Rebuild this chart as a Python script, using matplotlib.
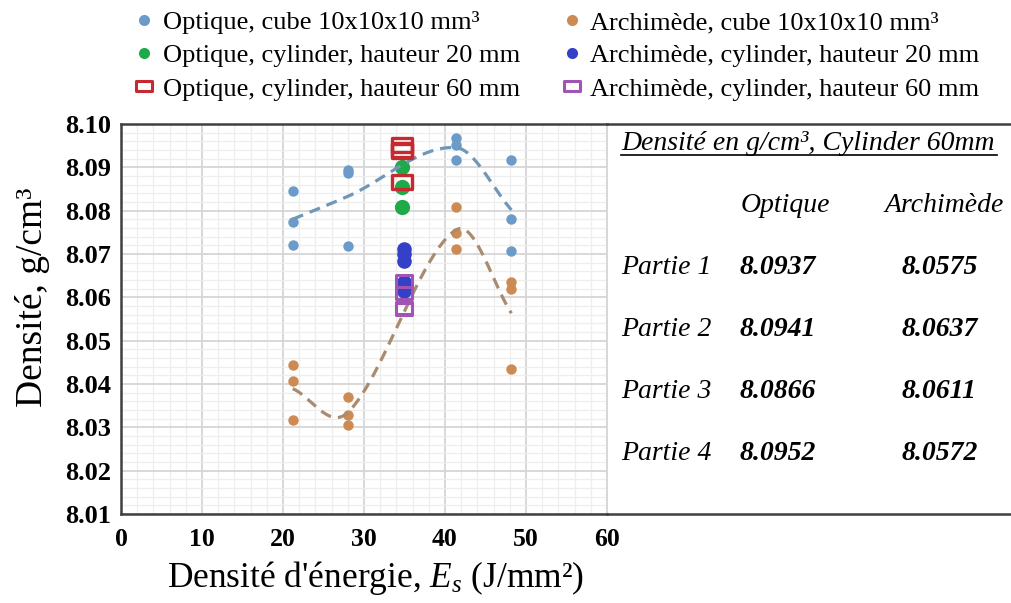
import numpy as np
import matplotlib
matplotlib.use("Agg")
import matplotlib.pyplot as plt
from matplotlib.path import Path
from matplotlib.lines import Line2D

plt.rcParams["font.family"] = ["Liberation Serif", "DejaVu Serif"]
plt.rcParams["mathtext.fontset"] = "custom"
plt.rcParams["mathtext.rm"] = "Liberation Serif"
plt.rcParams["mathtext.it"] = "Liberation Serif:italic"
plt.rcParams["mathtext.bf"] = "Liberation Serif:bold"

# cube 10x10x10 mm3, three samples per energy density
cube_x = [21.2, 28.0, 41.4, 48.2]
opt_cube = [[8.0846, 8.0775, 8.0720],
            [8.0894, 8.0887, 8.0718],
            [8.0967, 8.0951, 8.0918],
            [8.0917, 8.0780, 8.0708]]
arch_cube = [[8.0444, 8.0408, 8.0316],
             [8.0369, 8.0328, 8.0306],
             [8.0808, 8.0748, 8.0712],
             [8.0635, 8.0620, 8.0435]]

# cylinders
cyl_x_opt = 34.7
cyl_x_arch = 34.9
opt_cyl20 = [8.0901, 8.0855, 8.0808]
arch_cyl20 = [8.0711, 8.0700, 8.0684, 8.0636, 8.0621, 8.0614]

parties = ["Partie 1", "Partie 2", "Partie 3", "Partie 4"]
opt_cyl60 = [8.0937, 8.0941, 8.0866, 8.0952]
arch_cyl60 = [8.0575, 8.0637, 8.0611, 8.0572]

c_opt = "#6b9bc8"
c_arch = "#cd8a52"
c_green = "#1faa4a"
c_dblue = "#3440c8"
c_red = "#c42a30"
c_purple = "#a154b4"

W, H = 1011, 603


def px(x, y):
    return x / W, 1 - y / H


def smooth(xs, ys, n=200):
    # cubic hermite through the points (catmull-rom like tangents)
    xs = np.asarray(xs, float)
    ys = np.asarray(ys, float)
    m = np.zeros_like(ys)
    m[0] = (ys[1] - ys[0]) / (xs[1] - xs[0])
    m[-1] = (ys[-1] - ys[-2]) / (xs[-1] - xs[-2])
    for i in range(1, len(xs) - 1):
        m[i] = (ys[i + 1] - ys[i - 1]) / (xs[i + 1] - xs[i - 1])
    outx, outy = [], []
    for i in range(len(xs) - 1):
        h = xs[i + 1] - xs[i]
        t = np.linspace(0, 1, n)
        h00 = 2 * t**3 - 3 * t**2 + 1
        h10 = t**3 - 2 * t**2 + t
        h01 = -2 * t**3 + 3 * t**2
        h11 = t**3 - t**2
        outx.append(xs[i] + t * h)
        outy.append(h00 * ys[i] + h10 * h * m[i] + h01 * ys[i + 1] + h11 * h * m[i + 1])
    return np.concatenate(outx), np.concatenate(outy)


rect = Path([(-1, -0.7), (1, -0.7), (1, 0.7), (-1, 0.7), (-1, -0.7)], closed=True)

fig = plt.figure(figsize=(W / 100, H / 100), dpi=100)
ax = fig.add_axes([121 / W, 89 / H, 486 / W, 390 / H])

ax.set_xlim(0, 60)
ax.set_ylim(8.01, 8.10)
ax.set_xticks(range(0, 61, 10))
ax.set_xticks(np.arange(0, 61, 2), minor=True)
ax.set_yticks(np.round(np.arange(8.01, 8.1001, 0.01), 2))
ax.set_yticks(np.arange(8.01, 8.1001, 0.002), minor=True)
ax.yaxis.set_major_formatter(matplotlib.ticker.FormatStrFormatter("%.2f"))
ax.grid(which="major", color="#d6d6d6", lw=1.3, zorder=0)
ax.grid(which="minor", color="#eeeeee", lw=0.9, zorder=0)
ax.set_axisbelow(True)
ax.tick_params(which="both", length=0)
ax.tick_params(axis="y", pad=7, labelsize=19)
ax.tick_params(axis="x", pad=10, labelsize=18.5)
for lab in ax.get_xticklabels() + ax.get_yticklabels():
    lab.set_fontweight("bold")
for s in ["left", "top", "bottom"]:
    ax.spines[s].set_color("#404040")
    ax.spines[s].set_linewidth(1.8)
ax.spines["right"].set_color("#d6d6d6")
ax.spines["right"].set_linewidth(1.3)

# extend the outer frame across the table area
for yy in [124, 514]:
    fig.add_artist(Line2D([607 / W, 1010 / W], [1 - yy / H] * 2, color="#404040",
                          lw=1.8, transform=fig.transFigure))

# cube points
for xv, vals in zip(cube_x, opt_cube):
    ax.plot([xv] * len(vals), vals, "o", color=c_opt, ms=7.5, mew=0, zorder=3)
for xv, vals in zip(cube_x, arch_cube):
    ax.plot([xv] * len(vals), vals, "o", color=c_arch, ms=7.5, mew=0, zorder=3)

# trend lines through the means
tx, ty = smooth(cube_x, [np.mean(v) for v in opt_cube])
ax.plot(tx, ty, "--", color="#6f97b8", lw=2.3, dashes=(3.5, 2.2), zorder=4)
tx, ty = smooth(cube_x, [np.mean(v) for v in arch_cube])
ax.plot(tx, ty, "--", color="#a98b70", lw=2.3, dashes=(3.5, 2.2), zorder=4)

# cylinders
ax.plot([cyl_x_opt] * len(opt_cyl20), opt_cyl20, "o", color=c_green, ms=11, mew=0, zorder=3)
ax.plot([cyl_x_arch] * len(arch_cyl20), arch_cyl20, "o", color=c_dblue, ms=10.5, mew=0, zorder=3)
ax.plot([cyl_x_opt] * len(opt_cyl60), opt_cyl60, ls="none", marker=rect, ms=14.5,
        mfc="none", mec=c_red, mew=2.4, zorder=5)
ax.plot([cyl_x_arch] * len(arch_cyl60), arch_cyl60, ls="none", marker=rect, ms=12,
        mfc="none", mec=c_purple, mew=2.2, zorder=5)

# legend
handles = [
    Line2D([], [], ls="none", marker="o", color=c_opt, ms=8, mew=0),
    Line2D([], [], ls="none", marker="o", color=c_green, ms=8, mew=0),
    Line2D([], [], ls="none", marker=rect, ms=11, mfc="white", mec=c_red, mew=2.2),
    Line2D([], [], ls="none", marker="o", color=c_arch, ms=8, mew=0),
    Line2D([], [], ls="none", marker="o", color=c_dblue, ms=8, mew=0),
    Line2D([], [], ls="none", marker=rect, ms=11, mfc="white", mec=c_purple, mew=2.2),
]
labels = ["Optique, cube 10x10x10 mm³", "Optique, cylinder, hauteur 20 mm",
          "Optique, cylinder, hauteur 60 mm", "Archimède, cube 10x10x10 mm³",
          "Archimède, cylinder, hauteur 20 mm", "Archimède, cylinder, hauteur 60 mm"]
fig.legend(handles, labels, ncol=2, loc="upper left", bbox_to_anchor=(123 / W, 1.0),
           frameon=False, fontsize=19, handlelength=0.8, handletextpad=0.3,
           labelspacing=0.37, columnspacing=1.57, borderaxespad=0.2, borderpad=0.2)

# axis labels
fig.text(*px(33, 297), "Densité, g/cm³", rotation=90, ha="center", va="center", fontsize=27)
fig.text(*px(375, 578), "Densité d'énergie, $E_s$ (J/mm²)", ha="center", va="center", fontsize=25.5)

# table
fig.text(*px(621, 144), "Densité en g/cm³, Cylinder 60mm", style="italic", fontsize=20,
         ha="left", va="center")
fig.add_artist(Line2D([621 / W, 997 / W], [1 - 155 / H] * 2, color="black", lw=1.2,
                      transform=fig.transFigure))
fig.text(*px(785, 205), "Optique", style="italic", fontsize=20, ha="center", va="center")
fig.text(*px(944, 205), "Archimède", style="italic", fontsize=20, ha="center", va="center")
row_y = [267, 329, 392, 454]
for name, o, a, yy in zip(parties, opt_cyl60, arch_cyl60, row_y):
    fig.text(*px(621, yy), name, style="italic", fontsize=20, ha="left", va="center")
    fig.text(*px(740, yy), f"{o:.4f}", style="italic", weight="bold", fontsize=20,
             ha="left", va="center")
    fig.text(*px(902, yy), f"{a:.4f}", style="italic", weight="bold", fontsize=20,
             ha="left", va="center")

fig.savefig("out.png", dpi=100)
